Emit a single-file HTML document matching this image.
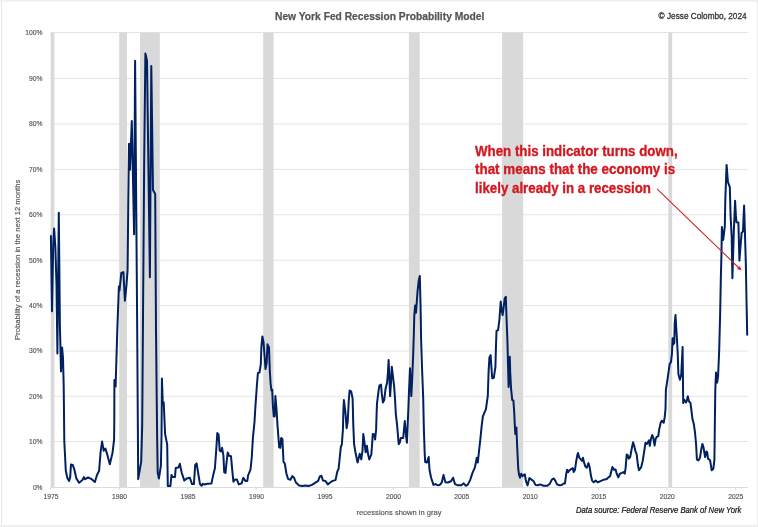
<!DOCTYPE html>
<html lang="en">
<head>
<meta charset="utf-8">
<title>New York Fed Recession Probability Model</title>
<style>
html,body{margin:0;padding:0;background:#ffffff;}
body{width:758px;height:527px;overflow:hidden;}
svg{display:block;}
text{font-family:"Liberation Sans",Arial,Helvetica,sans-serif;}
.ax{font-size:7.3px;fill:#555555;stroke:#555555;stroke-width:0.15px;}
.ttl{font-size:11.5px;font-weight:bold;fill:#555555;stroke:#555555;stroke-width:0.25px;}
.cpy{font-size:9.2px;fill:#333333;stroke:#333333;stroke-width:0.3px;}
.red{font-size:15.0px;font-weight:bold;fill:#d31820;stroke:#d31820;stroke-width:0.35px;}
.src{font-size:8.4px;font-style:italic;fill:#111111;stroke:#111111;stroke-width:0.2px;}
</style>
</head>
<body>
<svg width="758" height="527" viewBox="0 0 758 527">
<rect x="0" y="0" width="758" height="527" fill="#ffffff"/>
<rect x="0" y="0" width="758" height="1.6" fill="#efefef"/>
<rect x="0" y="525" width="758" height="2" fill="#efefef"/>
<rect x="757" y="0" width="1" height="527" fill="#efefef"/>
<rect x="1" y="1.6" width="1" height="523.4" fill="#e6e6e6"/>
<g stroke="#e4e4e4" stroke-width="1" fill="none">
<line x1="50.6" y1="441.5" x2="748.0" y2="441.5"/>
<line x1="50.6" y1="396.3" x2="748.0" y2="396.3"/>
<line x1="50.6" y1="351.0" x2="748.0" y2="351.0"/>
<line x1="50.6" y1="305.6" x2="748.0" y2="305.6"/>
<line x1="50.6" y1="260.3" x2="748.0" y2="260.3"/>
<line x1="50.6" y1="214.8" x2="748.0" y2="214.8"/>
<line x1="50.6" y1="169.4" x2="748.0" y2="169.4"/>
<line x1="50.6" y1="124.0" x2="748.0" y2="124.0"/>
<line x1="50.6" y1="78.5" x2="748.0" y2="78.5"/>
<line x1="50.6" y1="32.5" x2="748.0" y2="32.5"/>
</g>
<g fill="#d9d9d9">
<rect x="50.7" y="32.5" width="3.7" height="455.0"/>
<rect x="119.2" y="32.5" width="7.8" height="455.0"/>
<rect x="140.0" y="32.5" width="19.8" height="455.0"/>
<rect x="263.2" y="32.5" width="10.4" height="455.0"/>
<rect x="408.9" y="32.5" width="10.8" height="455.0"/>
<rect x="502.1" y="32.5" width="21.0" height="455.0"/>
<rect x="668.3" y="32.5" width="3.9" height="455.0"/>
</g>
<g stroke="#dcdcdc" stroke-width="1">
<line x1="50.6" y1="487.5" x2="748.0" y2="487.5" shape-rendering="crispEdges"/>
<line x1="50.6" y1="487.5" x2="50.6" y2="490.0"/>
<line x1="119.1" y1="487.5" x2="119.1" y2="490.0"/>
<line x1="187.6" y1="487.5" x2="187.6" y2="490.0"/>
<line x1="256.1" y1="487.5" x2="256.1" y2="490.0"/>
<line x1="324.6" y1="487.5" x2="324.6" y2="490.0"/>
<line x1="393.1" y1="487.5" x2="393.1" y2="490.0"/>
<line x1="461.5" y1="487.5" x2="461.5" y2="490.0"/>
<line x1="530.0" y1="487.5" x2="530.0" y2="490.0"/>
<line x1="598.5" y1="487.5" x2="598.5" y2="490.0"/>
<line x1="667.0" y1="487.5" x2="667.0" y2="490.0"/>
<line x1="735.5" y1="487.5" x2="735.5" y2="490.0"/>
</g>
<g class="ax">
<text x="42.6" y="489.8" text-anchor="end" textLength="9.7" lengthAdjust="spacingAndGlyphs" style="font-size:7.8px">0%</text>
<text x="42.6" y="443.8" text-anchor="end" textLength="13.5" lengthAdjust="spacingAndGlyphs" style="font-size:7.8px">10%</text>
<text x="42.6" y="398.6" text-anchor="end" textLength="13.5" lengthAdjust="spacingAndGlyphs" style="font-size:7.8px">20%</text>
<text x="42.6" y="353.3" text-anchor="end" textLength="13.5" lengthAdjust="spacingAndGlyphs" style="font-size:7.8px">30%</text>
<text x="42.6" y="307.9" text-anchor="end" textLength="13.5" lengthAdjust="spacingAndGlyphs" style="font-size:7.8px">40%</text>
<text x="42.6" y="262.6" text-anchor="end" textLength="13.5" lengthAdjust="spacingAndGlyphs" style="font-size:7.8px">50%</text>
<text x="42.6" y="217.1" text-anchor="end" textLength="13.5" lengthAdjust="spacingAndGlyphs" style="font-size:7.8px">60%</text>
<text x="42.6" y="171.7" text-anchor="end" textLength="13.5" lengthAdjust="spacingAndGlyphs" style="font-size:7.8px">70%</text>
<text x="42.6" y="126.3" text-anchor="end" textLength="13.5" lengthAdjust="spacingAndGlyphs" style="font-size:7.8px">80%</text>
<text x="42.6" y="80.8" text-anchor="end" textLength="13.5" lengthAdjust="spacingAndGlyphs" style="font-size:7.8px">90%</text>
<text x="42.6" y="34.8" text-anchor="end" textLength="17.3" lengthAdjust="spacingAndGlyphs" style="font-size:7.8px">100%</text>
<text x="50.9" y="499.1" text-anchor="middle" textLength="15.0" lengthAdjust="spacingAndGlyphs">1975</text>
<text x="119.4" y="499.1" text-anchor="middle" textLength="15.0" lengthAdjust="spacingAndGlyphs">1980</text>
<text x="187.9" y="499.1" text-anchor="middle" textLength="15.0" lengthAdjust="spacingAndGlyphs">1985</text>
<text x="256.4" y="499.1" text-anchor="middle" textLength="15.0" lengthAdjust="spacingAndGlyphs">1990</text>
<text x="324.9" y="499.1" text-anchor="middle" textLength="15.0" lengthAdjust="spacingAndGlyphs">1995</text>
<text x="393.4" y="499.1" text-anchor="middle" textLength="15.0" lengthAdjust="spacingAndGlyphs">2000</text>
<text x="461.8" y="499.1" text-anchor="middle" textLength="15.0" lengthAdjust="spacingAndGlyphs">2005</text>
<text x="530.3" y="499.1" text-anchor="middle" textLength="15.0" lengthAdjust="spacingAndGlyphs">2010</text>
<text x="598.8" y="499.1" text-anchor="middle" textLength="15.0" lengthAdjust="spacingAndGlyphs">2015</text>
<text x="667.3" y="499.1" text-anchor="middle" textLength="15.0" lengthAdjust="spacingAndGlyphs">2020</text>
<text x="735.8" y="499.1" text-anchor="middle" textLength="15.0" lengthAdjust="spacingAndGlyphs">2025</text>
<text x="399.1" y="514.9" text-anchor="middle" textLength="85.0" lengthAdjust="spacingAndGlyphs">recessions shown in gray</text>
<text x="0" y="0" text-anchor="middle" textLength="160.4" lengthAdjust="spacingAndGlyphs" transform="translate(20.0,259.8) rotate(-90)">Probability of a recession in the next 12 months</text>
</g>
<text class="ttl" x="275.0" y="19.5" textLength="209.3" lengthAdjust="spacingAndGlyphs">New York Fed Recession Probability Model</text>
<text class="cpy" x="746.6" y="18.9" text-anchor="end" textLength="88.0" lengthAdjust="spacingAndGlyphs">© Jesse Colombo, 2024</text>
<text class="src" x="741.3" y="513.1" text-anchor="end" textLength="165.3" lengthAdjust="spacingAndGlyphs">Data source: Federal Reserve Bank of New York</text>
<path d="M50.9,236.1 L52.0,311.3 L53.2,246.0 L54.1,228.4 L55.4,248.0 L56.5,285.0 L57.4,353.4 L58.8,212.7 L59.9,325.0 L61.0,371.4 L62.1,347.5 L63.0,358.0 L63.7,386.0 L64.3,441.2 L65.8,470.8 L67.4,478.2 L69.1,480.9 L70.2,477.1 L71.0,464.4 L72.7,464.9 L74.4,469.7 L76.3,478.2 L79.0,482.8 L82.2,480.3 L83.9,477.1 L85.0,479.2 L88.1,477.5 L91.7,479.2 L94.9,482.0 L97.0,475.0 L99.1,470.8 L100.6,451.8 L102.1,441.6 L103.7,450.7 L105.4,448.6 L107.1,453.9 L109.8,464.3 L112.5,453.1 L114.1,439.3 L114.3,420.0 L114.4,380.0 L115.6,386.5 L117.3,330.0 L118.9,286.4 L119.5,290.6 L121.3,273.0 L123.4,272.1 L124.9,300.7 L126.5,285.0 L127.6,270.0 L128.3,200.0 L129.0,143.8 L130.0,169.8 L131.8,120.9 L134.1,234.2 L135.1,60.8 L136.2,200.0 L137.2,330.0 L138.2,479.2 L141.2,461.6 L142.2,425.0 L143.2,290.0 L144.2,160.0 L145.4,53.4 L147.0,60.8 L149.9,277.3 L151.3,66.1 L153.0,190.0 L155.2,194.0 L156.0,330.0 L157.1,434.0 L157.7,472.3 L158.9,478.6 L160.9,465.9 L161.5,436.0 L161.9,378.4 L162.8,404.0 L163.7,402.3 L165.1,434.0 L167.2,444.6 L167.8,486.0 L170.4,486.0 L171.5,474.9 L172.5,477.0 L175.0,477.0 L175.7,468.0 L178.4,467.5 L179.8,463.8 L181.6,472.3 L184.3,480.6 L186.7,478.5 L189.9,477.7 L192.0,484.1 L193.9,484.1 L195.2,465.0 L196.6,463.4 L198.4,474.5 L200.0,484.1 L201.6,485.7 L202.7,483.8 L204.3,484.4 L207.5,483.8 L211.4,483.6 L213.0,476.1 L214.9,468.2 L216.2,450.6 L217.3,433.1 L218.6,434.7 L219.7,450.6 L221.0,451.4 L222.1,447.8 L223.4,455.4 L224.2,472.1 L225.5,472.9 L226.6,461.8 L227.7,452.5 L229.0,455.7 L231.0,456.2 L232.2,469.7 L233.4,481.7 L235.0,479.6 L236.9,479.6 L238.8,484.4 L241.7,483.3 L243.3,477.7 L245.4,480.9 L247.3,480.9 L248.1,475.3 L250.5,469.7 L251.8,457.0 L252.9,437.9 L254.5,421.9 L255.2,409.8 L256.8,386.6 L257.9,373.0 L259.5,372.5 L260.8,364.2 L261.4,346.7 L262.4,336.4 L263.5,341.9 L264.6,356.3 L265.5,369.0 L266.7,362.7 L267.5,344.3 L269.0,347.5 L269.8,370.6 L270.6,383.4 L271.4,390.5 L272.2,389.7 L272.9,406.0 L273.8,416.4 L274.6,416.4 L275.4,396.1 L276.5,409.2 L277.6,426.7 L279.2,447.4 L280.3,447.8 L281.2,437.9 L282.4,439.0 L283.5,461.8 L284.8,463.5 L286.4,473.5 L288.0,478.8 L290.4,479.8 L292.4,476.1 L294.0,477.7 L295.9,482.5 L299.1,485.4 L302.3,486.0 L305.5,485.4 L308.7,486.0 L311.9,484.9 L314.3,483.3 L318.2,480.9 L319.8,476.4 L321.4,475.8 L323.0,480.6 L325.4,480.9 L327.8,484.4 L330.2,482.5 L332.6,480.9 L335.5,480.1 L337.4,471.3 L338.6,468.9 L339.8,457.0 L340.9,446.6 L341.8,445.0 L342.9,429.9 L343.4,410.0 L343.9,400.1 L345.1,409.7 L345.7,415.6 L346.6,428.3 L347.7,421.9 L348.8,400.1 L349.6,390.6 L351.2,391.4 L352.6,398.5 L353.3,425.1 L354.1,444.2 L355.7,453.8 L357.6,462.6 L359.7,453.8 L361.3,459.4 L362.5,450.6 L363.3,433.9 L364.5,442.7 L365.6,452.2 L366.9,445.8 L368.0,453.8 L369.2,459.4 L371.3,454.6 L372.1,444.2 L372.8,433.9 L374.3,434.4 L375.1,439.5 L376.1,429.9 L376.6,414.0 L377.0,403.3 L378.6,390.6 L379.4,385.5 L381.0,384.5 L381.8,393.7 L382.9,402.5 L384.2,400.1 L385.5,389.0 L387.1,382.6 L387.9,373.0 L388.6,360.0 L389.4,377.8 L390.1,396.1 L391.0,382.6 L391.8,366.7 L392.9,376.2 L394.1,385.8 L395.0,398.5 L395.8,413.8 L397.1,425.1 L398.7,444.2 L400.0,441.9 L400.8,437.9 L403.2,437.9 L404.8,421.1 L406.1,436.3 L406.9,442.7 L407.6,426.7 L408.5,405.0 L408.9,393.7 L410.0,368.2 L411.3,396.1 L412.1,381.0 L413.2,353.9 L413.8,335.0 L414.3,315.8 L415.1,305.4 L416.0,312.6 L417.5,291.9 L418.7,280.7 L419.8,275.9 L420.6,307.8 L421.1,339.7 L422.1,369.8 L423.2,398.0 L423.9,429.9 L424.7,453.8 L425.2,462.1 L426.8,462.6 L428.7,457.0 L429.5,469.7 L431.1,477.7 L433.5,484.9 L435.4,484.1 L437.4,485.2 L439.8,484.9 L441.8,482.5 L443.5,475.0 L445.4,482.2 L447.8,482.5 L451.0,481.2 L453.1,477.7 L455.0,484.1 L457.4,485.2 L461.4,485.2 L463.7,483.3 L465.7,485.7 L467.7,484.9 L470.1,480.1 L472.5,472.9 L474.9,467.4 L476.2,461.0 L476.8,457.8 L477.8,462.6 L478.9,452.2 L480.5,437.9 L481.6,426.7 L482.9,416.4 L484.5,412.4 L485.9,409.3 L487.8,395.8 L488.6,371.9 L489.4,357.5 L490.6,355.1 L491.4,367.1 L492.2,378.2 L493.8,377.9 L495.4,367.1 L495.9,348.5 L496.5,331.0 L498.1,330.2 L499.4,319.8 L500.7,301.5 L501.5,308.7 L502.6,315.1 L503.7,307.1 L504.7,298.3 L505.8,296.7 L506.6,319.8 L507.4,340.0 L507.9,360.0 L508.6,387.0 L509.8,356.7 L510.2,371.9 L511.0,387.8 L512.2,399.8 L513.4,400.6 L514.2,411.7 L514.8,425.1 L515.3,433.9 L516.4,427.5 L517.2,447.4 L518.3,469.7 L519.2,475.3 L520.0,477.7 L521.2,473.7 L522.7,476.1 L524.8,474.2 L525.9,480.9 L527.5,485.4 L529.4,478.0 L531.5,479.6 L533.6,481.2 L535.5,484.9 L537.9,485.2 L540.3,484.4 L543.5,485.7 L547.5,485.7 L549.8,483.8 L551.8,479.6 L553.8,478.5 L555.4,480.9 L557.0,484.4 L559.4,485.2 L561.8,484.9 L563.4,483.8 L565.0,483.3 L566.1,474.5 L567.1,469.7 L568.2,472.1 L569.3,470.5 L571.4,468.9 L572.9,468.2 L573.7,472.1 L575.0,469.7 L576.1,461.8 L577.3,455.4 L578.0,453.0 L579.3,457.8 L580.9,459.4 L582.0,461.0 L583.0,457.8 L584.1,462.6 L585.4,466.6 L586.8,467.8 L588.4,463.1 L589.7,467.4 L591.0,476.1 L592.1,480.6 L593.7,482.2 L595.7,480.6 L597.7,482.2 L599.2,481.7 L601.6,480.6 L604.0,479.6 L606.4,479.3 L608.0,477.7 L610.1,476.1 L611.3,471.3 L612.4,466.9 L614.0,469.7 L615.6,469.4 L616.7,473.7 L618.3,477.4 L619.9,473.7 L622.0,472.9 L623.5,472.1 L624.7,473.7 L625.6,468.2 L626.7,454.6 L627.8,455.4 L628.8,458.6 L630.2,457.0 L631.8,448.2 L633.1,442.3 L634.2,445.8 L635.5,451.4 L636.6,453.8 L637.9,465.0 L639.0,470.2 L641.1,467.4 L642.7,461.0 L644.3,450.6 L645.5,442.7 L647.0,443.9 L649.0,440.3 L649.8,445.8 L651.0,438.7 L652.2,435.0 L653.3,437.9 L654.6,445.5 L655.7,438.7 L657.0,436.6 L658.3,436.0 L659.1,429.9 L660.7,422.7 L661.8,420.7 L663.7,422.7 L664.7,417.2 L665.5,409.2 L665.9,389.8 L667.9,376.6 L669.7,363.9 L671.0,362.0 L671.9,354.2 L672.6,338.2 L673.1,344.6 L674.3,343.0 L674.7,323.9 L675.5,315.1 L676.2,327.1 L677.0,339.8 L677.8,355.8 L678.4,374.0 L679.9,379.8 L681.2,375.0 L681.8,363.7 L682.6,347.0 L682.9,375.0 L683.2,403.1 L684.3,399.8 L685.2,401.1 L686.1,402.5 L686.9,400.5 L687.8,396.2 L688.9,401.1 L690.5,403.1 L691.5,411.0 L692.5,419.3 L693.7,423.5 L694.9,431.5 L696.1,444.2 L696.9,459.4 L698.4,460.5 L700.0,457.8 L701.3,449.0 L702.4,443.9 L703.5,447.4 L705.1,457.0 L706.4,451.4 L707.2,452.2 L708.0,458.6 L710.1,460.2 L711.2,467.4 L711.7,470.2 L713.3,468.9 L714.4,460.2 L714.9,420.0 L715.3,389.8 L716.0,372.6 L717.1,382.7 L718.1,376.0 L719.2,350.0 L720.1,315.9 L720.8,280.0 L721.4,255.9 L721.9,227.1 L723.2,239.9 L724.8,226.6 L725.3,200.0 L726.6,164.9 L727.9,181.9 L729.8,187.2 L730.6,215.9 L731.7,237.2 L732.4,278.2 L733.8,231.9 L735.1,200.8 L735.9,215.9 L736.5,222.3 L738.4,222.5 L739.4,260.6 L741.6,232.9 L743.0,231.4 L744.1,205.6 L744.9,231.9 L745.8,262.0 L746.5,300.0 L747.2,334.7" fill="none" stroke="#002060" stroke-width="2.0" stroke-linejoin="round" stroke-linecap="round"/>
<g class="red">
<text x="475.0" y="155.5" textLength="202.6" lengthAdjust="spacingAndGlyphs">When this indicator turns down,</text>
<text x="475.0" y="174.1" textLength="200.2" lengthAdjust="spacingAndGlyphs">that means that the economy is</text>
<text x="475.0" y="192.7" textLength="176.0" lengthAdjust="spacingAndGlyphs">likely already in a recession</text>
</g>
<line x1="657.0" y1="188.9" x2="739.0" y2="268.0" stroke="#c8242c" stroke-width="1.05"/>
<polygon points="741.7,270.6 736.9,268.9 739.8,265.9" fill="#e01f28"/>
</svg>
</body>
</html>
